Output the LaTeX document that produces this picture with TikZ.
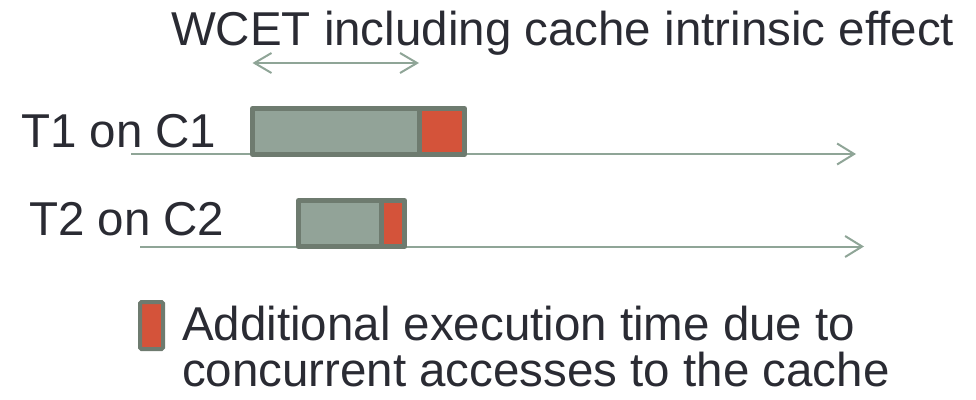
\documentclass[tikz,border=0pt]{standalone}
\usepackage{fontspec}
\setmainfont{Liberation Sans}
\usetikzlibrary{arrows.meta}

\definecolor{inkdark}{HTML}{2A2B33}
\definecolor{axisgreen}{HTML}{8FA597}
\definecolor{edgegray}{HTML}{6E7B6F}
\definecolor{basegray}{HTML}{92A398}
\definecolor{extrared}{HTML}{D4533A}

\tikzset{
  label/.style={font=\fontsize{47.5}{46}\selectfont, text=inkdark, inner sep=0pt, outer sep=0pt, anchor=base west},
  seg/.style={draw=edgegray, line width=5pt, line join=round, inner sep=0pt, outer sep=0pt,
              minimum height=46pt, anchor=north west},
  timeline/.style={draw=axisgreen, line width=2pt, -{Straight Barb[length=17pt, width=21pt, line width=2pt]}},
  span/.style={draw=axisgreen, line width=2pt, {Straight Barb[length=17pt, width=20pt, line width=2pt]}-{Straight Barb[length=17pt, width=20pt, line width=2pt]}},
  keybox/.style={draw=edgegray, fill=extrared, line width=4pt, rounded corners=1.5pt, inner sep=0pt, outer sep=0pt,
                 minimum width=23pt, minimum height=47pt, anchor=north west}
}

\begin{document}
\begin{tikzpicture}[x=1pt, y=-1pt]
\useasboundingbox (0,0) rectangle (976,399);

% headings and row labels
\node[label] (title) at (171,45) {WCET including cache intrinsic effect};
\node[label] (row1) at (21,147) {T1 on C1};
\node[label] (row2) at (29,235) {T2 on C2};

% time axes
\coordinate (ax1s) at (131,154);
\coordinate (ax1e) at (856,154);
\coordinate (ax2s) at (140,246.5);
\coordinate (ax2e) at (864,246.5);
\draw[timeline] (ax1s) -- (ax1e);
\draw[timeline] (ax2s) -- (ax2e);

% task T1: base execution plus interference
\node[seg, fill=basegray, minimum width=166.5pt] (t1base) at (252.5,108.5) {};
\node[seg, fill=extrared, minimum width=45.5pt] (t1extra) at (t1base.north east) {};

% task T2: base execution plus interference
\node[seg, fill=basegray, minimum width=82.5pt] (t2base) at (298.5,200.5) {};
\node[seg, fill=extrared, minimum width=23.5pt] (t2extra) at (t2base.north east) {};

% WCET span above T1
\draw[span] ([yshift=45.5pt]t1base.north west) -- ([yshift=45.5pt]t1base.north east);

% legend (a multi-line node sits on the baseline of its last line)
\node[keybox] (key) at (140,302) {};
\node[label, align=left] (keytext) at (182,386) {Additional execution time due to\\concurrent accesses to the cache};
\end{tikzpicture}
\end{document}
